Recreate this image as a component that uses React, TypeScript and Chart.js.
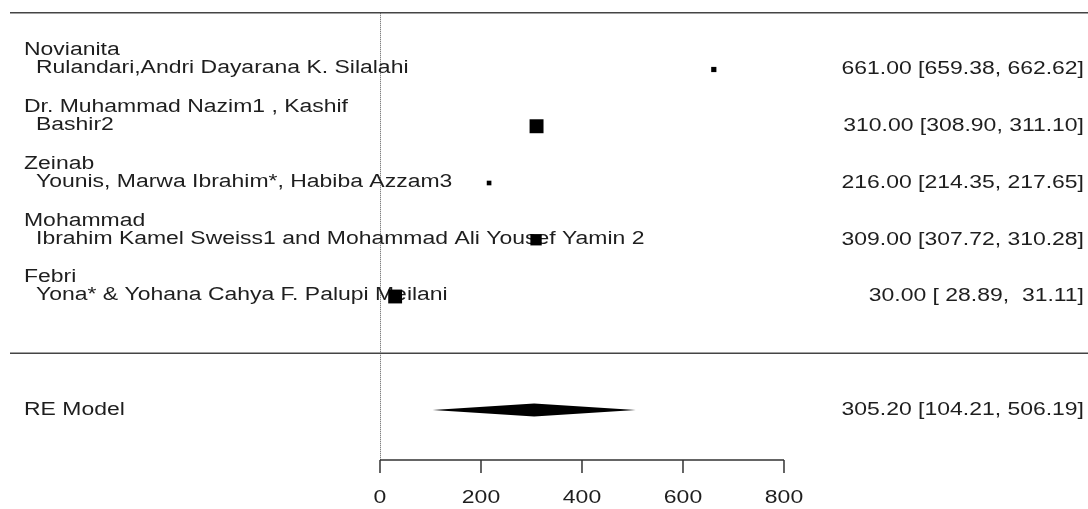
import React, { useEffect, useRef } from "react";
import { Chart, registerables } from "chart.js";

Chart.register(...registerables);

// Study labels (two lines each), listed from top to bottom
const studyLabels: string[][] = [
  ["Novianita", "Rulandari,Andri Dayarana K. Silalahi"],
  ["Dr. Muhammad Nazim1 , Kashif", "Bashir2"],
  ["Zeinab", "Younis, Marwa Ibrahim*, Habiba Azzam3"],
  ["Mohammad", "Ibrahim Kamel Sweiss1 and Mohammad Ali Yousef Yamin 2"],
  ["Febri", "Yona* & Yohana Cahya F. Palupi Meilani"],
];
const estimates = [661.0, 310.0, 216.0, 309.0, 30.0];
const ciLower = [659.38, 308.9, 214.35, 307.72, 28.89];
const ciUpper = [662.62, 311.1, 217.65, 310.28, 31.11];
// relative marker sizes (model weights)
const studyWeights = [0.56, 1.5, 0.5, 1.22, 1.49];

const summaryLabel = "RE Model";
const summaryEstimate = 305.2;
const summaryLower = 104.21;
const summaryUpper = 506.19;

const axisTicks = [0, 200, 400, 600, 800];

const W = 1088;
const H = 509;
const FONT = '18px "Liberation Sans", Arial, sans-serif';
const SX = 1.275; // horizontal text stretch
const TEXT = "#1e1e1e";

const fmt = (v: number) => {
  const s = v.toFixed(2);
  return s.length < 6 ? " ".repeat(6 - s.length) + s : s;
};

function drawText(
  ctx: CanvasRenderingContext2D,
  text: string,
  x: number,
  y: number,
  align: CanvasTextAlign
) {
  ctx.save();
  ctx.translate(x, y);
  ctx.scale(SX, 1);
  ctx.font = FONT;
  ctx.fillStyle = TEXT;
  ctx.textAlign = align;
  ctx.textBaseline = "middle";
  ctx.fillText(text, 0, 0);
  ctx.restore();
}

const k = estimates.length;

const forestPlugin = {
  id: "forestDecor",
  beforeDatasetsDraw(chart: any) {
    const ctx: CanvasRenderingContext2D = chart.ctx;
    const xs = chart.scales.x;
    const ys = chart.scales.y;
    const px = (v: number) => xs.getPixelForValue(v);
    const py = (v: number) => ys.getPixelForValue(v);
    const axisRow = -1.881;

    ctx.save();
    // reference line at zero
    ctx.strokeStyle = "#5a5a5a";
    ctx.lineWidth = 1;
    ctx.setLineDash([1, 1]);
    ctx.beginPath();
    ctx.moveTo(Math.round(px(0)) + 0.5, py(k + 1));
    ctx.lineTo(Math.round(px(0)) + 0.5, py(axisRow));
    ctx.stroke();
    ctx.setLineDash([]);

    // horizontal separators
    ctx.strokeStyle = "#444";
    ctx.lineWidth = 1.7;
    [k + 1, 0].forEach((r) => {
      ctx.beginPath();
      ctx.moveTo(10, py(r));
      ctx.lineTo(W, py(r));
      ctx.stroke();
    });

    // confidence intervals
    ctx.strokeStyle = "#000";
    ctx.lineWidth = 1;
    estimates.forEach((_, i) => {
      const r = k - i;
      ctx.beginPath();
      ctx.moveTo(px(ciLower[i]), py(r));
      ctx.lineTo(px(ciUpper[i]), py(r));
      ctx.stroke();
    });

    // summary diamond
    const dh = 0.115;
    ctx.fillStyle = "#000";
    ctx.beginPath();
    ctx.moveTo(px(summaryLower), py(-1));
    ctx.lineTo(px(summaryEstimate), py(-1 + dh));
    ctx.lineTo(px(summaryUpper), py(-1));
    ctx.lineTo(px(summaryEstimate), py(-1 - dh));
    ctx.closePath();
    ctx.fill();

    // x axis
    ctx.strokeStyle = "#333";
    ctx.lineWidth = 1.5;
    const ay = py(axisRow);
    ctx.beginPath();
    ctx.moveTo(px(axisTicks[0]), ay);
    ctx.lineTo(px(axisTicks[axisTicks.length - 1]), ay);
    axisTicks.forEach((t) => {
      ctx.moveTo(px(t), ay);
      ctx.lineTo(px(t), ay + 13);
    });
    ctx.stroke();
    axisTicks.forEach((t) => drawText(ctx, String(t), px(t), ay + 38, "center"));

    // study labels and estimates
    studyLabels.forEach((lines, i) => {
      const y = py(k - i);
      drawText(ctx, lines[0], 24, y - 19, "left");
      drawText(ctx, lines[1], 36, y - 1, "left");
      drawText(
        ctx,
        `${fmt(estimates[i])} [${fmt(ciLower[i])}, ${fmt(ciUpper[i])}]`,
        1084,
        y,
        "right"
      );
    });
    drawText(ctx, summaryLabel, 24, py(-1), "left");
    drawText(
      ctx,
      `${fmt(summaryEstimate)} [${fmt(summaryLower)}, ${fmt(summaryUpper)}]`,
      1084,
      py(-1),
      "right"
    );
    ctx.restore();
  },
};

export default function App() {
  const ref = useRef<HTMLCanvasElement | null>(null);

  useEffect(() => {
    if (!ref.current) return;
    const chart = new Chart(ref.current, {
      type: "scatter",
      data: {
        datasets: [
          {
            data: estimates.map((x, i) => ({ x, y: k - i })),
            pointStyle: "rect",
            pointRadius: studyWeights.map((w) => (w * 9.3) / Math.SQRT2),
            pointHoverRadius: studyWeights.map((w) => (w * 9.3) / Math.SQRT2),
            backgroundColor: "#000",
            borderWidth: 0,
            showLine: false,
          },
        ],
      },
      options: {
        animation: false,
        responsive: false,
        maintainAspectRatio: false,
        layout: { padding: 0, autoPadding: false },
        events: [],
        scales: {
          x: { type: "linear", min: -752.48, max: 1402.0, display: false },
          y: { type: "linear", min: -2.7445, max: 6.2247, display: false },
        },
        plugins: { legend: { display: false }, tooltip: { enabled: false } },
      },
      plugins: [forestPlugin],
    });
    return () => chart.destroy();
  }, []);

  return (
    <div style={{ position: "fixed", left: 0, top: 0, width: W, height: H, background: "#fff" }}>
      <canvas ref={ref} width={W} height={H} style={{ display: "block" }} />
    </div>
  );
}
